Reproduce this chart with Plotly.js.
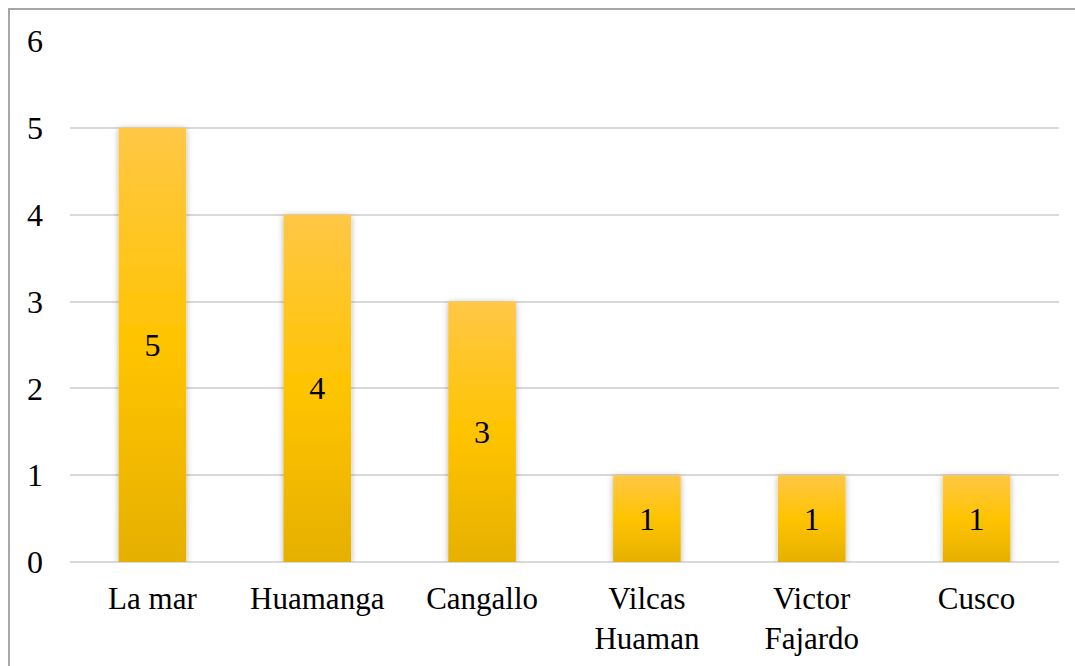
<!DOCTYPE html>
<html>
<head>
<meta charset="utf-8">
<script src="https://cdn.plot.ly/plotly-3.0.1.min.js"></script>
<style>
  html, body { margin: 0; padding: 0; background: #fff; }
  #chart { width: 1075px; height: 666px; }
  #chart .main-svg text { font-family: "Liberation Serif", "Times New Roman", serif !important; }
</style>
</head>
<body>
<div id="chart"></div>
<script>
// Provinces and counts
const categories = ['La mar', 'Huamanga', 'Cangallo', 'Vilcas<br>Huaman', 'Victor<br>Fajardo', 'Cusco'];
const counts = [5, 4, 3, 1, 1, 1];
const yTicks = [0, 1, 2, 3, 4, 5, 6];

const serif = 'Liberation Serif';

const trace = {
  type: 'bar',
  x: categories,
  y: counts,
  text: counts.map(String),
  textposition: 'inside',
  insidetextanchor: 'middle',
  textangle: 0,
  textfont: { family: serif, size: 32, color: '#000' },
  marker: { color: '#FFC400' },
  width: 0.41
};

const layout = {
  width: 1075,
  height: 666,
  margin: { l: 70, r: 16, t: 41, b: 104 },
  showlegend: false,
  xaxis: {
    type: 'category',
    showgrid: false,
    zeroline: false,
    tickfont: { family: serif, size: 31, color: '#000' },
    ticklabelstandoff: 15
  },
  yaxis: {
    range: [0, 6],
    tickvals: yTicks,
    gridcolor: '#d9d9d9',
    gridwidth: 2,
    zerolinecolor: '#d9d9d9',
    zerolinewidth: 2,
    tickfont: { family: serif, size: 32, color: '#000' },
    ticklabelstandoff: 26
  },
  shapes: [{
    type: 'rect', xref: 'paper', yref: 'paper',
    x0: -61 / 989, x1: 1.1, y0: -0.3, y1: 1 + 32 / 521,
    line: { color: '#a6a6a6', width: 2 },
    layer: 'below'
  }]
};

Plotly.newPlot('chart', [trace], layout, { staticPlot: true }).then(gd => {
  // Vertical gold gradient and a soft shadow for the bars
  const svg = gd.querySelector('svg.main-svg');
  const ns = 'http://www.w3.org/2000/svg';
  let defs = svg.querySelector('defs');
  if (!defs) { defs = document.createElementNS(ns, 'defs'); svg.insertBefore(defs, svg.firstChild); }

  const grad = document.createElementNS(ns, 'linearGradient');
  grad.setAttribute('id', 'barGold');
  grad.setAttribute('x1', '0'); grad.setAttribute('y1', '0');
  grad.setAttribute('x2', '0'); grad.setAttribute('y2', '1');
  [['0%', '#FFC746'], ['50%', '#FFC400'], ['100%', '#E6B000']].forEach(([o, c]) => {
    const s = document.createElementNS(ns, 'stop');
    s.setAttribute('offset', o); s.setAttribute('stop-color', c);
    grad.appendChild(s);
  });
  defs.appendChild(grad);

  const filt = document.createElementNS(ns, 'filter');
  filt.setAttribute('id', 'barShadow');
  filt.setAttribute('x', '-30%'); filt.setAttribute('y', '-10%');
  filt.setAttribute('width', '160%'); filt.setAttribute('height', '120%');
  const sh = document.createElementNS(ns, 'feDropShadow');
  sh.setAttribute('dx', '0'); sh.setAttribute('dy', '1');
  sh.setAttribute('stdDeviation', '3');
  sh.setAttribute('flood-color', '#000'); sh.setAttribute('flood-opacity', '0.3');
  filt.appendChild(sh);
  defs.appendChild(filt);

  gd.querySelectorAll('.bars .point path').forEach(p => {
    p.style.fill = 'url(#barGold)';
    p.setAttribute('filter', 'url(#barShadow)');
  });
});
</script>
</body>
</html>
